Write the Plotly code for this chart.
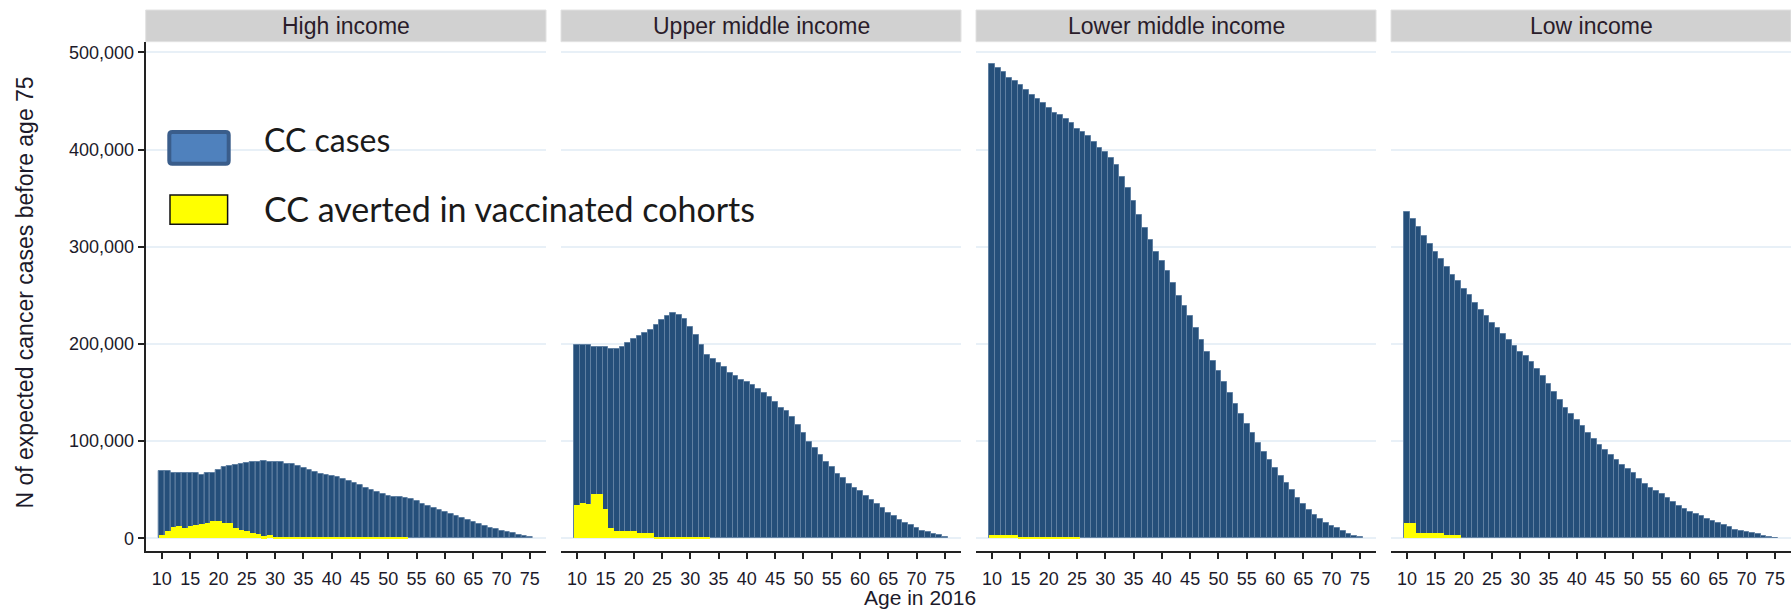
import plotly.graph_objects as go

W, H = 1791, 613

ages = list(range(10, 76))
age_ticks = [10, 15, 20, 25, 30, 35, 40, 45, 50, 55, 60, 65, 70, 75]
y_ticks = [0, 100000, 200000, 300000, 400000, 500000]

panel_titles = ["High income", "Upper middle income", "Lower middle income", "Low income"]

high_cases = [69000, 69000, 67000, 67000, 67000, 67000, 67000, 65000, 67000, 67000,
              70000, 73000, 74000, 75500, 76000, 77000, 78000, 78000, 80000, 78000,
              78000, 78000, 76000, 76000, 74000, 72000, 70000, 68000, 66000, 65000,
              64000, 63000, 61000, 59000, 57000, 55000, 52000, 50000, 48000, 46000,
              44000, 43000, 42000, 41500, 40000, 38000, 35000, 33000, 31000, 29000,
              27000, 25000, 23000, 21000, 19000, 17000, 15000, 13000, 11000, 9500,
              8000, 6500, 5000, 3500, 2000, 1000]
high_averted = [3000, 8000, 11500, 13000, 11000, 12500, 13500, 14500, 16000, 17500,
                17500, 16000, 15500, 11000, 9000, 7500, 5500, 4000, 2000, 3000,
                1200, 1200, 1200, 1200, 1200, 1200, 1200, 1200, 1200, 1200,
                1200, 1200, 1200, 1200, 1200, 1200, 1200, 1200, 1200, 1200,
                1200, 1200, 1200, 1200, 0, 0, 0, 0, 0, 0,
                0, 0, 0, 0, 0, 0, 0, 0, 0, 0,
                0, 0, 0, 0, 0, 0]

upper_cases = [199000, 199000, 199000, 197000, 197000, 197000, 195000, 195000, 197000, 201000,
               205000, 208000, 211000, 214500, 219000, 224500, 228500, 231500, 230000, 226000,
               217000, 209000, 199000, 189000, 184000, 180000, 176000, 170000, 167000, 163000,
               161000, 158000, 154000, 149500, 145500, 140500, 134500, 130500, 124500, 116500,
               108500, 99000, 93000, 86000, 79000, 73000, 66500, 62000, 56000, 51500,
               48500, 43500, 39500, 35500, 31500, 26500, 22500, 18500, 15500, 13500,
               10500, 8000, 6500, 4500, 3000, 1200]
upper_averted = [34000, 36000, 35000, 45500, 45500, 30000, 11000, 7500, 7500, 7500,
                 7500, 5000, 5000, 5000, 1000, 1000, 1000, 1000, 1000, 1000,
                 1000, 1000, 1000, 1000, 0, 0, 0, 0, 0, 0,
                 0, 0, 0, 0, 0, 0, 0, 0, 0, 0,
                 0, 0, 0, 0, 0, 0, 0, 0, 0, 0,
                 0, 0, 0, 0, 0, 0, 0, 0, 0, 0,
                 0, 0, 0, 0, 0, 0]

lower_cases = [488000, 484000, 480000, 474000, 470000, 466000, 461000, 456000, 452000, 448000,
               443000, 438000, 435500, 431500, 427500, 421500, 417500, 413500, 407500, 402000,
               397000, 391000, 384000, 372000, 360000, 347000, 333000, 319000, 307000, 295000,
               285000, 275000, 263000, 249000, 238500, 228500, 216000, 204000, 192000, 182000,
               172000, 161000, 150000, 138000, 128000, 118000, 108000, 98500, 88500, 80500,
               72500, 64500, 56500, 49500, 41500, 35500, 29500, 24000, 20000, 16000,
               13000, 10500, 7200, 4800, 2400, 1200]
lower_averted = [3500, 3500, 3500, 3500, 3500, 1000, 1000, 1000, 1000, 1000,
                 1000, 1000, 1000, 1000, 1000, 1000, 0, 0, 0, 0,
                 0, 0, 0, 0, 0, 0, 0, 0, 0, 0,
                 0, 0, 0, 0, 0, 0, 0, 0, 0, 0,
                 0, 0, 0, 0, 0, 0, 0, 0, 0, 0,
                 0, 0, 0, 0, 0, 0, 0, 0, 0, 0,
                 0, 0, 0, 0, 0, 0]

low_cases = [336000, 328000, 320000, 311000, 303000, 295000, 287000, 279000, 271000, 265000,
             257000, 250000, 242000, 235000, 229000, 222000, 216000, 210000, 204000, 198000,
             192000, 187500, 181000, 174000, 167000, 159000, 151000, 142000, 134000, 128000,
             122000, 116000, 108000, 102000, 96000, 91000, 85500, 80500, 75000, 71500,
             67000, 61500, 55500, 51500, 48500, 45500, 41500, 37500, 33500, 30500,
             27500, 25500, 22500, 19500, 17500, 15500, 13500, 11500, 9000, 8000,
             6500, 5000, 4000, 2500, 1600, 500]
low_averted = [15500, 15500, 5500, 5500, 5500, 5500, 5500, 3000, 3000, 3000,
               0, 0, 0, 0, 0, 0, 0, 0, 0, 0,
               0, 0, 0, 0, 0, 0, 0, 0, 0, 0,
               0, 0, 0, 0, 0, 0, 0, 0, 0, 0,
               0, 0, 0, 0, 0, 0, 0, 0, 0, 0,
               0, 0, 0, 0, 0, 0, 0, 0, 0, 0,
               0, 0, 0, 0, 0, 0]

cases = [high_cases, upper_cases, lower_cases, low_cases]
averted = [high_averted, upper_averted, lower_averted, low_averted]

legend_labels = ["CC cases", "CC averted in vaccinated cohorts"]

BLUE = "#254f7a"
BLUE_EDGE = "#6080a2"
YELLOW = "#ffff00"
FONT = "Liberation Sans, Arial, sans-serif"
TXT = "#1c1a2a"


def px(x):
    return x / W


def py(y):
    return 1 - y / H


panel_px = [(145.7, 546), (561, 961), (976, 1376), (1391, 1791)]
y_top_px, y_bot_px = 42, 550.7
strip_top_px, strip_bot_px = 10, 41.7

fig = go.Figure()
for i in range(4):
    sfx = "" if i == 0 else str(i + 1)
    fig.add_trace(go.Bar(x=ages, y=cases[i], xaxis="x" + sfx, yaxis="y" + sfx,
                         marker=dict(color=BLUE, line=dict(color=BLUE_EDGE, width=1)),
                         showlegend=False, name=legend_labels[0]))
    fig.add_trace(go.Bar(x=ages, y=averted[i], xaxis="x" + sfx, yaxis="y" + sfx,
                         marker=dict(color=YELLOW, line=dict(width=0)),
                         showlegend=False, name=legend_labels[1]))

layout = dict(
    width=W, height=H, margin=dict(l=0, r=0, t=0, b=0),
    paper_bgcolor="white", plot_bgcolor="white",
    barmode="overlay", bargap=0,
    font=dict(family=FONT, size=18, color=TXT),
    showlegend=False,
)

yrange = [-12760, 510600]
ydom = [py(y_bot_px), py(y_top_px)]
for i in range(4):
    sfx = "" if i == 0 else str(i + 1)
    x0, x1 = panel_px[i]
    layout["xaxis" + sfx] = dict(
        domain=[px(x0), px(x1)], range=[7.15, 77.85], anchor="y" + sfx,
        tickvals=age_ticks, ticks="outside", ticklen=6, tickwidth=2, tickcolor="#222",
        showline=True, linecolor="#222", linewidth=2, showgrid=False, zeroline=False,
        ticklabelstandoff=5,
        tickfont=dict(family=FONT, size=18, color=TXT),
    )
    yax = dict(
        domain=ydom, range=yrange, anchor="x" + sfx,
        tickvals=y_ticks, showgrid=True, gridcolor="#e8f0f7", gridwidth=1.5, zeroline=False,
    )
    if i == 0:
        yax.update(ticks="outside", ticklen=6, tickwidth=2, tickcolor="#222",
                   showline=True, linecolor="#222", linewidth=2,
                   tickformat=",d", tickfont=dict(family=FONT, size=18, color=TXT))
    else:
        yax.update(matches="y", showticklabels=False, ticks="", showline=False)
    layout["yaxis" + sfx] = yax

shapes = []
annotations = []
for i in range(4):
    x0, x1 = panel_px[i]
    shapes.append(dict(type="rect", xref="paper", yref="paper",
                       x0=px(x0), x1=px(min(x1, W)), y0=py(strip_bot_px), y1=py(strip_top_px),
                       fillcolor="#d1d1d1", line=dict(color="#e2e2e2", width=1), layer="below"))
    annotations.append(dict(text=panel_titles[i], xref="paper", yref="paper",
                            x=px((x0 + x1) / 2), y=py((strip_top_px + strip_bot_px) / 2),
                            xanchor="center", yanchor="middle", showarrow=False,
                            font=dict(family=FONT, size=23, color="#2a1c2a")))


def rounded(x0, y0, x1, y1, r):
    pts = [
        f"M {px(x0 + r)},{py(y0)}",
        f"L {px(x1 - r)},{py(y0)}",
        f"Q {px(x1)},{py(y0)} {px(x1)},{py(y0 + r)}",
        f"L {px(x1)},{py(y1 - r)}",
        f"Q {px(x1)},{py(y1)} {px(x1 - r)},{py(y1)}",
        f"L {px(x0 + r)},{py(y1)}",
        f"Q {px(x0)},{py(y1)} {px(x0)},{py(y1 - r)}",
        f"L {px(x0)},{py(y0 + r)}",
        f"Q {px(x0)},{py(y0)} {px(x0 + r)},{py(y0)}",
        "Z",
    ]
    return " ".join(pts)


shapes.append(dict(type="path", xref="paper", yref="paper",
                   path=rounded(169.3, 132, 228.7, 163.7, 3),
                   fillcolor="#4f81bd", line=dict(color="#3a5d8b", width=4)))
shapes.append(dict(type="rect", xref="paper", yref="paper",
                   x0=px(170), x1=px(227.6), y0=py(224.3), y1=py(195),
                   fillcolor=YELLOW, line=dict(color="#111", width=1.5)))

LEG_FONT = "Lato, Open Sans, sans-serif"
annotations.append(dict(text=legend_labels[0], xref="paper", yref="paper",
                        x=px(262), y=py(139), xanchor="left", yanchor="middle",
                        showarrow=False, font=dict(family=LEG_FONT, size=32, color="#1a1a1a")))
annotations.append(dict(text=legend_labels[1], xref="paper", yref="paper",
                        x=px(262), y=py(209), xanchor="left", yanchor="middle",
                        showarrow=False, font=dict(family=LEG_FONT, size=34, color="#1a1a1a")))

annotations.append(dict(text="Age in 2016", xref="paper", yref="paper",
                        x=px(919.5), y=py(597), xanchor="center", yanchor="middle",
                        showarrow=False, font=dict(family=FONT, size=21, color=TXT)))
annotations.append(dict(text="N of expected cancer cases before age 75", xref="paper", yref="paper",
                        x=px(24), y=py(292.5), xanchor="center", yanchor="middle", textangle=-90,
                        showarrow=False, font=dict(family=FONT, size=23, color=TXT)))

layout["shapes"] = shapes
layout["annotations"] = annotations
fig.update_layout(**layout)
fig.write_html("out.html",
               config={"displayModeBar": False},
               post_script="document.body.style.margin='0px';document.body.style.overflow='hidden';")
